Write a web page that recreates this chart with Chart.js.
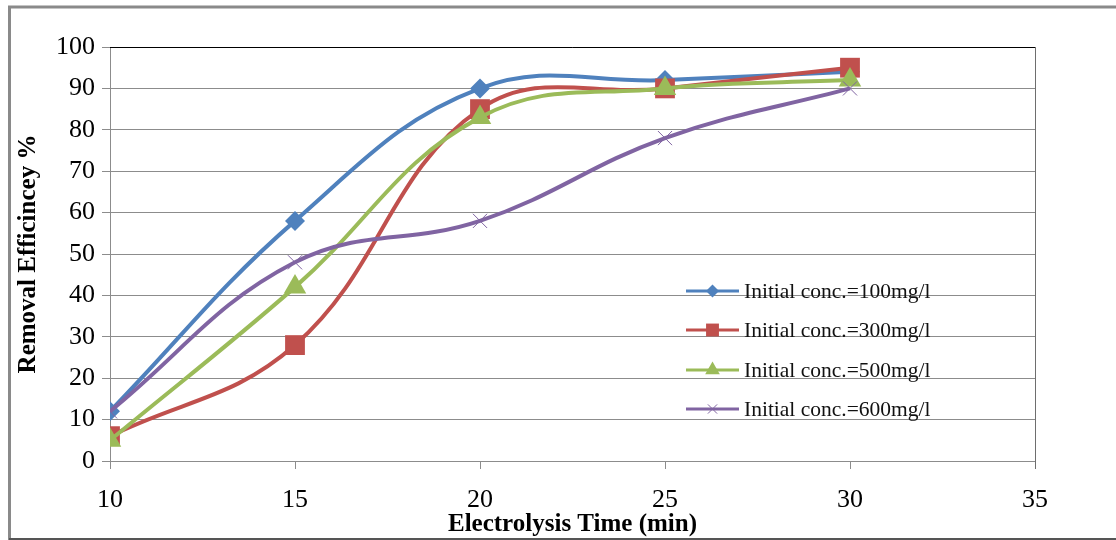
<!DOCTYPE html>
<html>
<head>
<meta charset="utf-8">
<script src="https://cdn.jsdelivr.net/npm/chart.js@4/dist/chart.umd.min.js"></script>
<style>
  html, body { margin: 0; padding: 0; background: #fff; }
</style>
</head>
<body>
<canvas id="myChart" width="1116" height="540"></canvas>
<script>
// Dados do gráfico
const times = [10, 15, 20, 25, 30];
const conc100 = [12, 58, 90, 92, 94];
const conc300 = [6, 28, 85, 90, 95];
const conc500 = [5, 42, 83, 90, 92];
const conc600 = [12, 48, 58, 78, 90];
const seriesLabels = ['Initial conc.=100mg/l', 'Initial conc.=300mg/l', 'Initial conc.=500mg/l', 'Initial conc.=600mg/l'];
const yTicks = [0, 10, 20, 30, 40, 50, 60, 70, 80, 90, 100];
const xTicks = [10, 15, 20, 25, 30, 35];

const serif = "'Liberation Serif', 'Times New Roman', serif";
const gridGray = '#8c8c8c';

const toPoints = vals => times.map((t, i) => ({ x: t, y: vals[i] }));

// Moldura externa e borda da área do gráfico
const framePlugin = {
    id: 'frame',
    beforeDraw(chart) {
        const ctx = chart.ctx;
        ctx.save();
        ctx.fillStyle = '#fff';
        ctx.fillRect(0, 0, chart.width, chart.height);
        ctx.strokeStyle = '#8a8a8a';
        ctx.lineWidth = 3;
        ctx.beginPath();
        ctx.moveTo(9.5, 540);
        ctx.lineTo(9.5, 7);
        ctx.lineTo(1116, 7);
        ctx.stroke();
        ctx.lineWidth = 2;
        ctx.strokeStyle = '#555';
        ctx.beginPath();
        ctx.moveTo(9, 539);
        ctx.lineTo(1116, 539);
        ctx.stroke();
        ctx.restore();
    },
    beforeDatasetsDraw(chart) {
        const { ctx, chartArea: a } = chart;
        ctx.save();
        ctx.lineWidth = 1;
        ctx.strokeStyle = '#000';
        ctx.beginPath();
        ctx.moveTo(a.left, a.top + 0.5);
        ctx.lineTo(a.right, a.top + 0.5);
        ctx.stroke();
        ctx.strokeStyle = '#6e6e6e';
        ctx.beginPath();
        ctx.moveTo(a.right + 0.5, a.top);
        ctx.lineTo(a.right + 0.5, a.bottom + 8);
        ctx.stroke();
        ctx.restore();
    }
};

// Legenda dentro da área do gráfico
const insideLegend = {
    id: 'insideLegend',
    afterDraw(chart) {
        const ctx = chart.ctx;
        const x0 = 686, x1 = 739, textX = 744;
        const rows = [291, 330, 370, 409];
        ctx.save();
        chart.data.datasets.forEach((ds, i) => {
            const y = rows[i];
            ctx.strokeStyle = ds.borderColor;
            ctx.lineWidth = 3;
            ctx.beginPath();
            ctx.moveTo(x0, y);
            ctx.lineTo(x1, y);
            ctx.stroke();
            ctx.fillStyle = ds.pointBackgroundColor;
            ctx.strokeStyle = ds.pointBorderColor;
            ctx.lineWidth = ds.pointBorderWidth;
            Chart.helpers.drawPoint(ctx, {
                pointStyle: ds.pointStyle,
                radius: ds.pointRadius * 0.65,
                rotation: 0,
                borderWidth: ds.pointBorderWidth
            }, (x0 + x1) / 2, y);
            ctx.fillStyle = '#111';
            ctx.font = '21.5px ' + serif;
            ctx.textBaseline = 'middle';
            ctx.textAlign = 'left';
            ctx.fillText(ds.label, textX, y + 1);
        });
        ctx.restore();
    }
};

const colors = ['#4f81bd', '#c0504d', '#9bbb59', '#8064a2'];
const styles = ['rectRot', 'rect', 'triangle', 'crossRot'];
const radii = [10, 14, 13, 10];
const values = [conc100, conc300, conc500, conc600];

const datasets = values.map((vals, i) => ({
    label: seriesLabels[i],
    data: toPoints(vals),
    borderColor: colors[i],
    borderWidth: 4,
    tension: 0.4,
    fill: false,
    pointStyle: styles[i],
    pointRadius: radii[i],
    pointHoverRadius: radii[i],
    pointBackgroundColor: colors[i],
    pointBorderColor: colors[i],
    pointBorderWidth: i === 3 ? 1 : 0,
    order: 4 - i
}));

const ctx = document.getElementById('myChart').getContext('2d');
new Chart(ctx, {
    type: 'line',
    data: { datasets },
    options: {
        responsive: false,
        animation: false,
        devicePixelRatio: 1,
        layout: { padding: { left: 0, top: 47, right: 81, bottom: 0 } },
        plugins: {
            legend: { display: false },
            tooltip: { enabled: false }
        },
        scales: {
            x: {
                type: 'linear',
                min: 10,
                max: 35,
                afterFit(scale) { scale.height = 79; },
                afterBuildTicks(scale) { scale.ticks = xTicks.map(v => ({ value: v })); },
                ticks: {
                    color: '#000',
                    font: { family: serif, size: 26 },
                    padding: 16,
                    maxRotation: 0
                },
                grid: {
                    drawOnChartArea: false,
                    drawTicks: true,
                    tickLength: 8,
                    color: gridGray
                },
                border: { color: gridGray, width: 1 },
                title: {
                    display: true,
                    text: 'Electrolysis Time (min)',
                    color: '#000',
                    font: { family: serif, size: 25, weight: 'bold' },
                    padding: { top: 0, bottom: 0 }
                }
            },
            y: {
                min: 0,
                max: 100,
                afterFit(scale) { scale.width = 110; },
                afterBuildTicks(scale) { scale.ticks = yTicks.map(v => ({ value: v })); },
                ticks: {
                    color: '#000',
                    font: { family: serif, size: 26 },
                    padding: 7
                },
                grid: {
                    color: gridGray,
                    tickLength: 8
                },
                border: { color: gridGray, width: 1 },
                title: {
                    display: true,
                    text: 'Removal Efficincey %',
                    color: '#000',
                    font: { family: serif, size: 25, weight: 'bold' },
                    padding: { top: 14, bottom: 0 }
                }
            }
        }
    },
    plugins: [framePlugin, insideLegend]
});
</script>
</body>
</html>
